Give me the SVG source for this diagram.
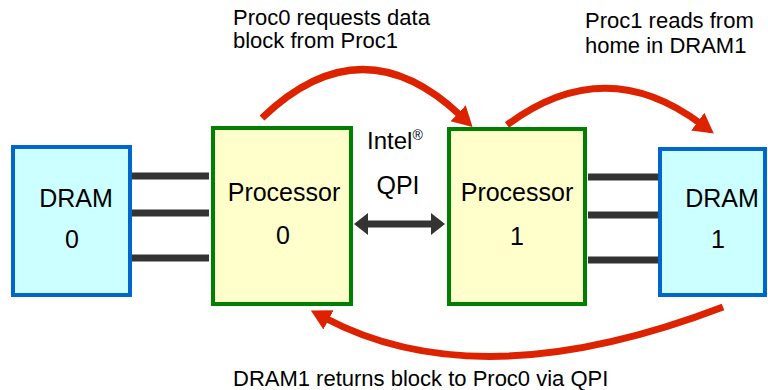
<svg xmlns="http://www.w3.org/2000/svg" width="768" height="390" viewBox="0 0 768 390">
<defs>
<style>
text{font-family:"Liberation Sans",Arial,sans-serif;fill:#000}
.big{font-size:25px;text-anchor:middle}
.lbl{font-size:22px}
.dram{fill:#CCFFFF;stroke:#0066CC;stroke-width:4}
.proc{fill:#FFFFCC;stroke:#008000;stroke-width:4}
.bus{stroke:#333;stroke-width:7}
.red{fill:none;stroke:#DD2200;stroke-width:7}
</style>
<marker id="rh" markerUnits="userSpaceOnUse" markerWidth="22" markerHeight="24" refX="4" refY="12" orient="auto">
<path d="M0,1 L20,12 L0,23 z" fill="#DD2200"/>
</marker>
</defs>
<g id="connectors">
<line class="bus" x1="132" y1="176" x2="209" y2="176"/>
<line class="bus" x1="132" y1="213" x2="209" y2="213"/>
<line class="bus" x1="132" y1="258" x2="209" y2="258"/>
<line class="bus" x1="588" y1="177" x2="658" y2="177"/>
<line class="bus" x1="588" y1="215" x2="658" y2="215"/>
<line class="bus" x1="588" y1="260" x2="658" y2="260"/>
<line class="bus" x1="364" y1="224" x2="435" y2="224"/>
<path d="M354,224 L368,213 L368,235 z" fill="#333"/>
<path d="M445,224 L431,213 L431,235 z" fill="#333"/>
<path class="red" d="M262,118 Q362,22 461,116" marker-end="url(#rh)"/>
<path class="red" d="M507,125 Q605,52 701,124" marker-end="url(#rh)"/>
<path class="red" d="M723,307 Q480,400 325,318" marker-end="url(#rh)"/>
</g>
<g id="dram0">
<rect class="dram" x="13" y="147" width="117" height="148"/>
<text class="big" x="76" y="207">DRAM</text>
<text class="big" x="72" y="248">0</text>
</g>
<g id="proc0">
<rect class="proc" x="213" y="128" width="138" height="176"/>
<text class="big" x="284" y="201">Processor</text>
<text class="big" x="283" y="244">0</text>
</g>
<g id="proc1">
<rect class="proc" x="449" y="129" width="136" height="175"/>
<text class="big" x="517" y="201">Processor</text>
<text class="big" x="517" y="245">1</text>
</g>
<g id="dram1">
<rect class="dram" x="660" y="149" width="105" height="146"/>
<text class="big" x="722" y="207">DRAM</text>
<text class="big" x="718" y="248">1</text>
</g>
<g id="labels">
<text x="367" y="149" style="font-size:24px">Intel<tspan style="font-size:14px" dy="-9">®</tspan></text>
<text class="big" x="398" y="194">QPI</text>
<text class="lbl" x="233" y="25">Proc0 requests data</text>
<text class="lbl" x="233" y="48">block from Proc1</text>
<text class="lbl" x="585" y="28">Proc1 reads from</text>
<text class="lbl" x="585" y="53">home in DRAM1</text>
<text class="lbl" x="233" y="386">DRAM1 returns block to Proc0 via QPI</text>
</g>
</svg>
